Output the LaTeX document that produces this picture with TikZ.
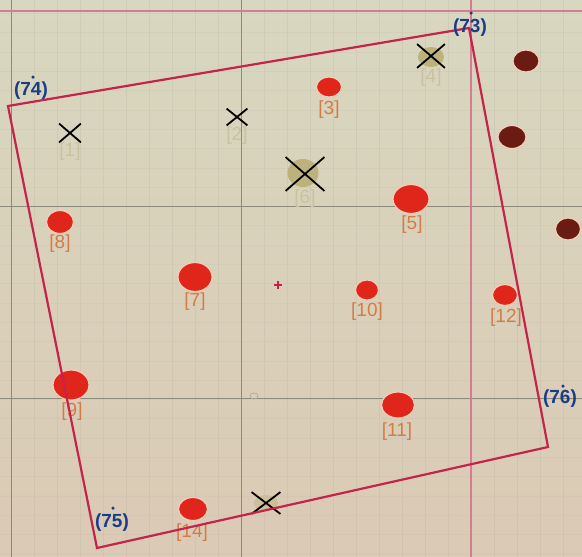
\documentclass[tikz,border=0pt]{standalone}
\usepackage{fontspec}
\setsansfont{Liberation Sans}
\usetikzlibrary{shapes.misc,shapes.geometric}
\definecolor{paperTop}{HTML}{D8D7BF}
\definecolor{paperBot}{HTML}{DBCAB5}
\definecolor{gridMinor}{HTML}{B8B6A6}
\definecolor{gridMajor}{HTML}{8C8A78}
\definecolor{pinkLine}{HTML}{D77A94}
\definecolor{frameRed}{HTML}{C4234A}
\definecolor{dotRed}{HTML}{E0251A}
\definecolor{dotBrown}{HTML}{6A1B12}
\definecolor{halo}{HTML}{F3CDB8}
\definecolor{khaki}{HTML}{BDB27C}
\definecolor{lblOrange}{HTML}{D47C48}
\definecolor{lblFade}{HTML}{CAC1A0}
\definecolor{navy}{HTML}{1B3D86}
\begin{document}
\begin{tikzpicture}[x=1pt,y=-1pt,
    redpt/.style={ellipse,fill=dotRed,draw=halo,line width=1.2pt,inner sep=0pt},
    brownpt/.style={ellipse,fill=dotBrown,draw=halo,line width=1.2pt,inner sep=0pt,minimum width=26pt,minimum height=22pt},
    xmark/.style={cross out,draw=black,line width=1.8pt,inner sep=0pt},
    xdisk/.style={ellipse,fill=khaki,inner sep=0pt},
    numlbl/.style={font=\sffamily\fontsize{19}{19}\selectfont,text=lblOrange,inner sep=0pt},
    fadelbl/.style={numlbl,text=lblFade},
    cornerlbl/.style={font=\sffamily\bfseries\fontsize{19}{19}\selectfont,text=navy,inner sep=0pt},
    cornerdot/.style={circle,fill=navy,inner sep=0pt,minimum size=3.5pt}]
    % Paper and grid
    \shade[top color=paperTop, bottom color=paperBot] (0,0) rectangle (582,557);
    \useasboundingbox (0,0) rectangle (582,557);
    \foreach \x in {11,34,...,581} \draw[gridMinor, opacity=0.3, line width=0.5pt] (\x,0) -- (\x,557);
    \foreach \y in {13.4,32.7,...,557} \draw[gridMinor, opacity=0.18, line width=0.5pt] (0,\y) -- (582,\y);
    \foreach \x in {11,241} \draw[gridMajor, line width=0.8pt] (\x,0) -- (\x,557);
    \foreach \y in {206,398} \draw[gridMajor, line width=0.8pt] (0,\y) -- (582,\y);
    \draw[pinkLine, line width=1.5pt] (0,11) -- (582,11);
    \draw[pinkLine, line width=1.5pt] (471,0) -- (471,557);

    % Corner points of the frame
    \coordinate (c74) at (8,106);
    \coordinate (c73) at (469,28);
    \coordinate (c76) at (548,447);
    \coordinate (c75) at (97,548);

    % Kept points
    \node[redpt, minimum width=25pt, minimum height=20pt] (p3) at (329,87) {};
    \node[redpt, minimum width=36pt, minimum height=29pt] (p5) at (411,199) {};
    \node[redpt, minimum width=34pt, minimum height=29pt] (p7) at (195,277) {};
    \node[redpt, minimum width=27pt, minimum height=23pt] (p8) at (60,222) {};
    \node[redpt, minimum width=36pt, minimum height=30pt] (p9) at (71,385) {};
    \node[redpt, minimum width=23pt, minimum height=20pt] (p10) at (367,290) {};
    \node[redpt, minimum width=33pt, minimum height=26pt] (p11) at (398,405) {};
    \node[redpt, minimum width=25pt, minimum height=21pt] (p12) at (505,295) {};
    \node[redpt, minimum width=29pt, minimum height=23pt] (p14) at (193,509) {};
    \node[numlbl] (l3) at (329,110) {[3]};
    \node[numlbl] (l5) at (412,225) {[5]};
    \node[numlbl] (l7) at (195,302) {[7]};
    \node[numlbl] (l8) at (60,244) {[8]};
    \node[numlbl] (l9) at (72,412) {[9]};
    \node[numlbl] (l10) at (367,312) {[10]};
    \node[numlbl] (l11) at (397,432) {[11]};
    \node[numlbl] (l12) at (506,318) {[12]};
    \node[numlbl] (l14) at (192,533) {[14]};

    % Points outside
    \node[brownpt] (q1) at (526,61) {};
    \node[brownpt, minimum width=28pt, minimum height=23pt] (q2) at (512,137) {};
    \node[brownpt, minimum width=25pt] (q3) at (568,229) {};

    % Removed points
    \node[xdisk, minimum width=26pt, minimum height=20pt] (k4) at (431,57) {};
    \node[xdisk, minimum width=31pt, minimum height=28pt] (k6) at (303,173) {};
    \node[xdisk, minimum width=24pt, minimum height=16pt, fill=khaki!50!paperBot] (k13) at (266,503) {};
    \node[xmark, minimum width=20pt, minimum height=17pt] (x1) at (70,133) {};
    \node[xmark, minimum width=19pt, minimum height=15pt] (x2) at (237,117) {};
    \node[xmark, minimum width=26pt, minimum height=22pt] (x4) at (431,56) {};
    \node[xmark, minimum width=37pt, minimum height=32pt] (x6) at (305,174) {};
    \node[xmark, minimum width=27pt, minimum height=20pt] (x13) at (266,503) {};
    \node[fadelbl] (l1) at (70,152) {[1]};
    \node[fadelbl] (l2) at (237,136) {[2]};
    \node[fadelbl] (l4) at (431,78) {[4]};
    \node[fadelbl] (l6) at (305,199) {[6]};

    % Centre marks
    \draw[frameRed, line width=1.1pt] (274,285) -- (282,285) (278,281) -- (278,289);
    \draw[gridMajor!70, line width=0.8pt] (254,396) ellipse (4 and 3);

    % Frame over the points
    \draw[frameRed, line width=2.2pt, line join=miter] (c74) -- (c73) -- (c76) -- (c75) -- cycle;
    \node[cornerlbl] (t74) at (31,91) {(74)};
    \node[cornerlbl] (t73) at (470,28) {(73)};
    \node[cornerlbl] (t76) at (560,399) {(76)};
    \node[cornerlbl] (t75) at (112,523) {(75)};
    \node[cornerdot] (d74) at (33,77) {};
    \node[cornerdot] (d73) at (471,13) {};
    \node[cornerdot] (d76) at (563,386) {};
    \node[cornerdot] (d75) at (113,508) {};
\end{tikzpicture}
\end{document}
